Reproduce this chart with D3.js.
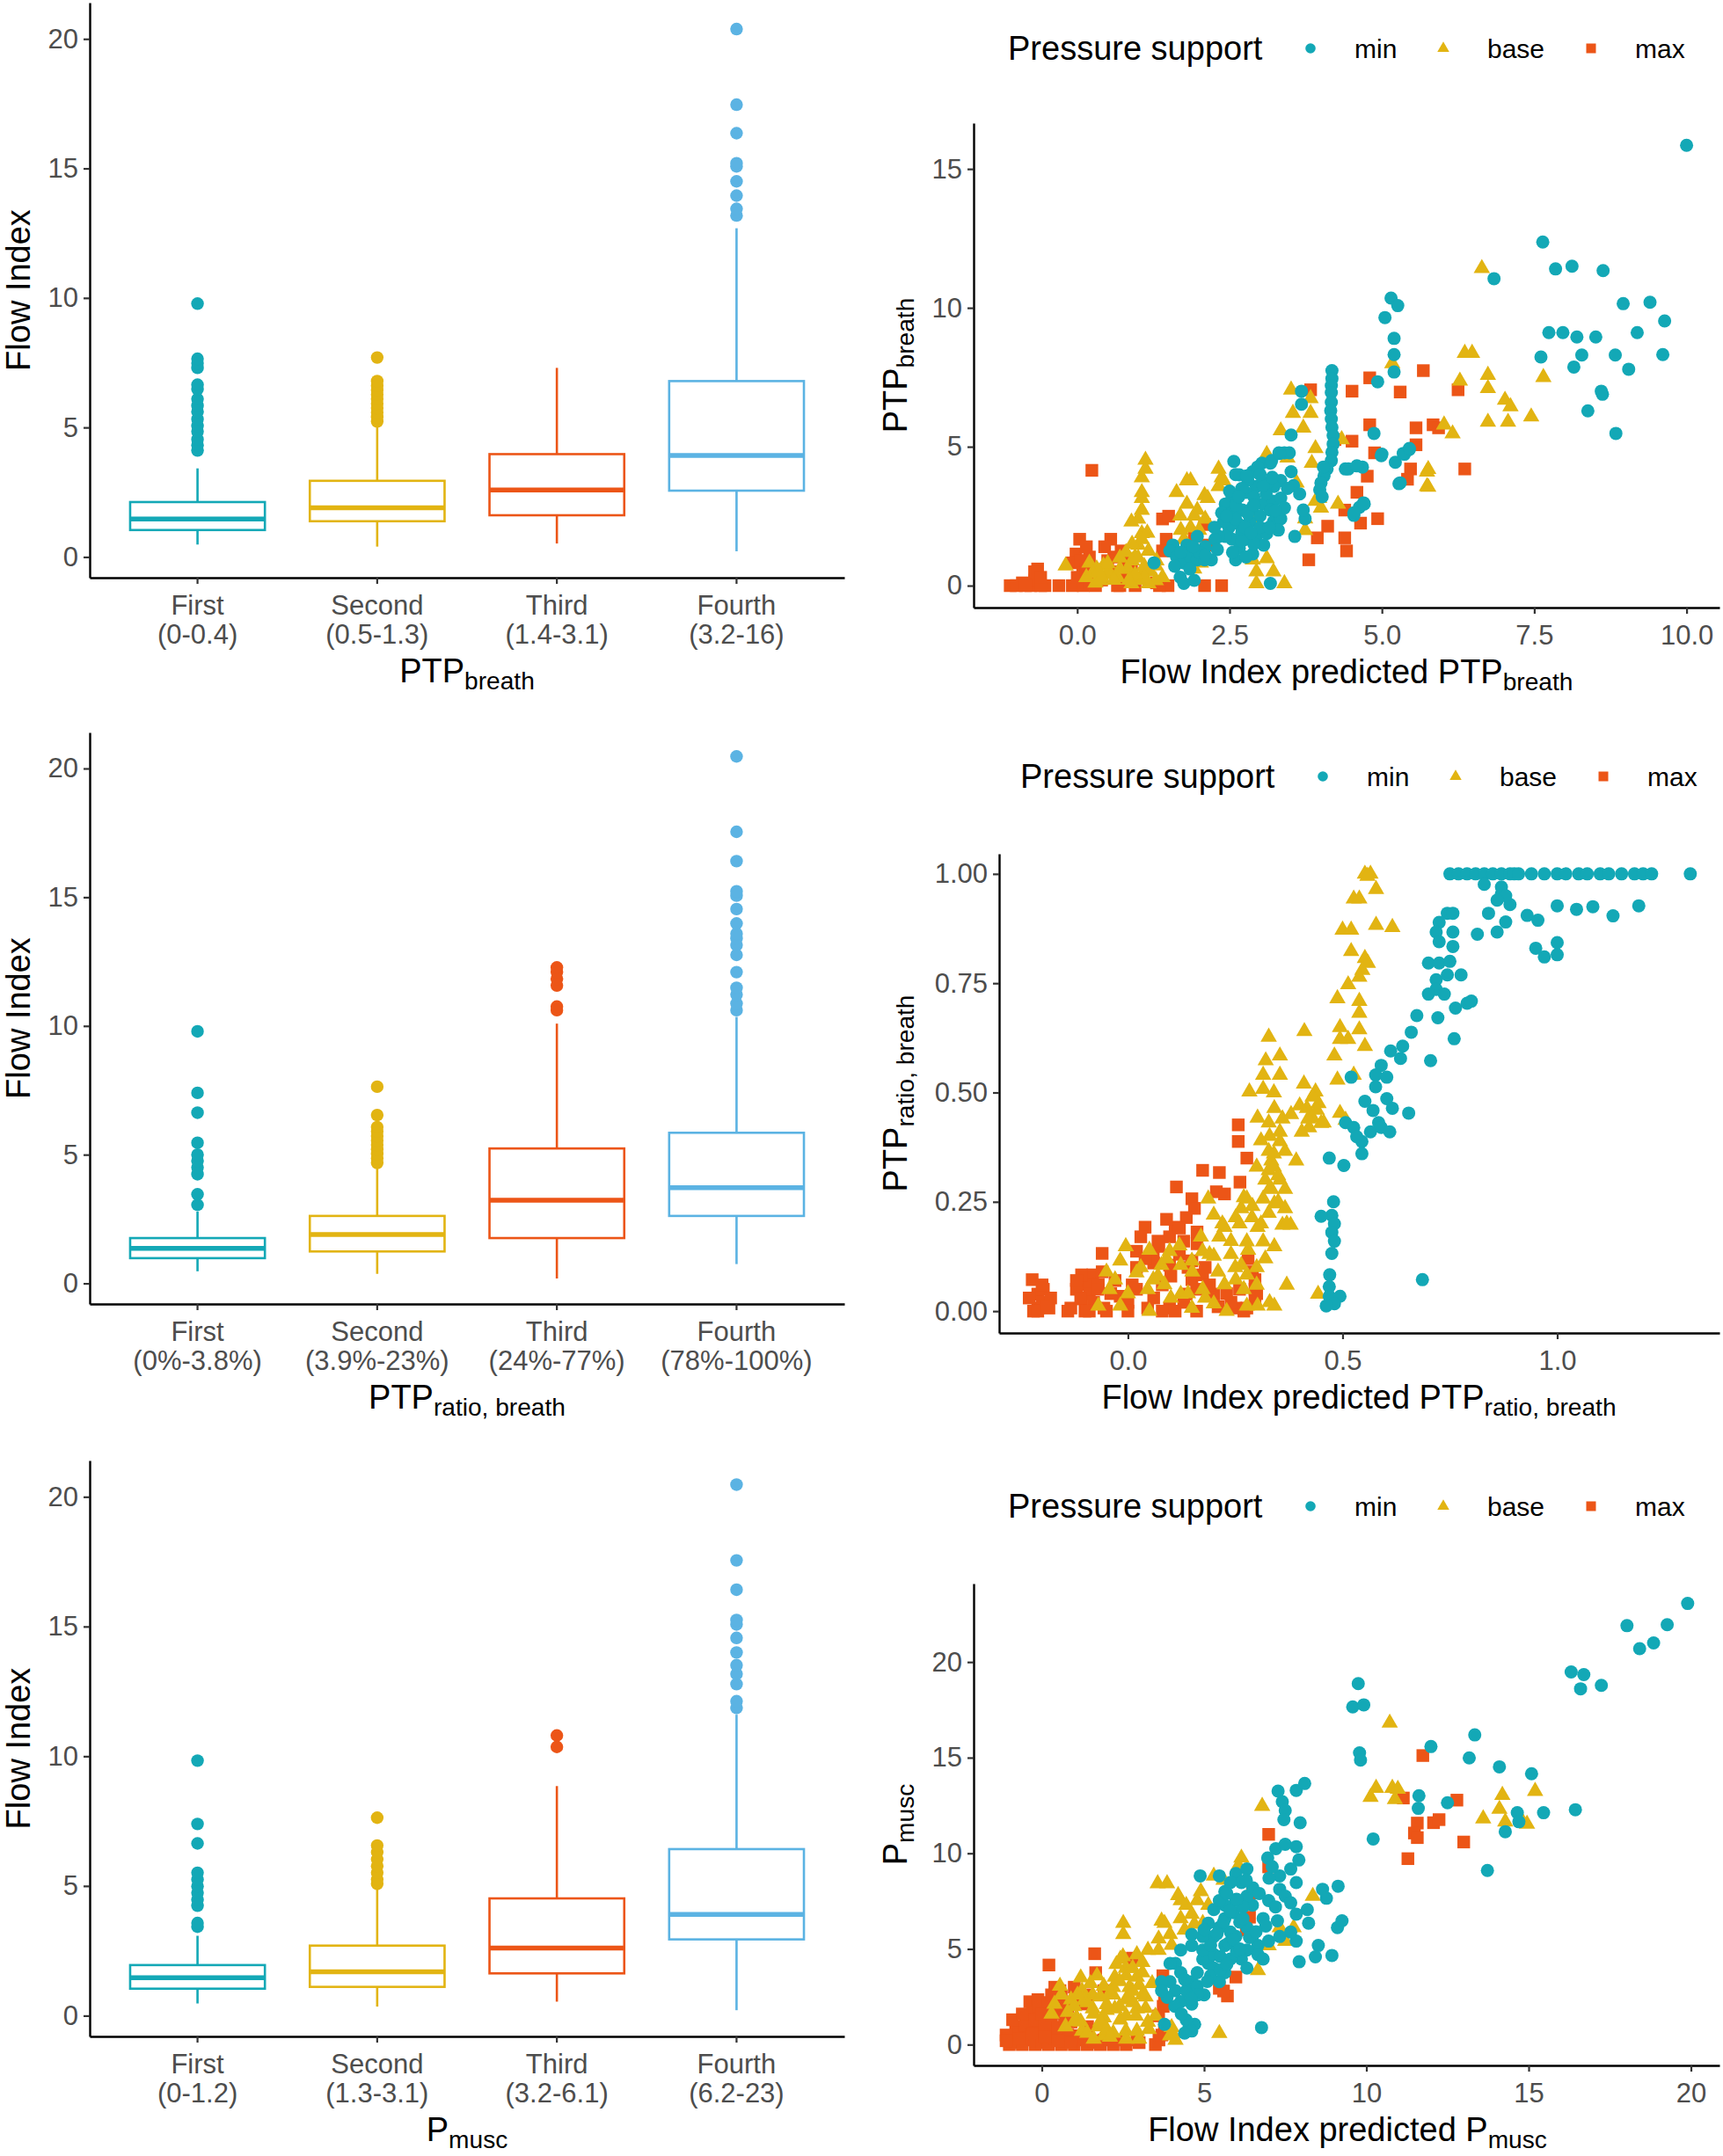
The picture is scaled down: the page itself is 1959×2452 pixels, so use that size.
<!DOCTYPE html>
<html>
<head>
<meta charset="utf-8">
<script src="https://d3js.org/d3.v7.min.js"></script>
<style>
  body { margin: 0; background: #fff; }
  text { font-family: "Liberation Sans", Arial, sans-serif; }
</style>
</head>
<body>
<svg id="fig" width="1959" height="2452"></svg>
<script>
// ---- data: box plots (Flow Index by quartile) ----
const boxCategories = ["First", "Second", "Third", "Fourth"];
const rangesBreath = ["(0-0.4)", "(0.5-1.3)", "(1.4-3.1)", "(3.2-16)"];
const rangesRatio = ["(0%-3.8%)", "(3.9%-23%)", "(24%-77%)", "(78%-100%)"];
const rangesMusc = ["(0-1.2)", "(1.3-3.1)", "(3.2-6.1)", "(6.2-23)"];

// [lower whisker, Q1, median, Q3, upper whisker]
const boxBreath = [[0.48, 1.04, 1.47, 2.12, 3.42], [0.4, 1.38, 1.9, 2.94, 5.05], [0.52, 1.61, 2.59, 3.97, 7.3], [0.22, 2.56, 3.92, 6.79, 12.69]];
const outBreath = [
  [4.11, 4.32, 4.54, 4.84, 5.06, 5.32, 5.61, 5.84, 6.1, 6.48, 6.65, 7.3, 7.48, 7.65, 9.78],
  [5.23, 5.4, 5.58, 5.75, 5.92, 6.1, 6.27, 6.44, 6.61, 6.79, 7.7],
  [],
  [13.18, 13.44, 13.95, 14.5, 15.08, 15.2, 16.36, 17.46, 20.38]
];
const boxRatio = [[0.47, 0.98, 1.36, 1.76, 2.79], [0.37, 1.24, 1.9, 2.62, 4.59], [0.19, 1.76, 3.23, 5.24, 10.09], [0.75, 2.62, 3.72, 5.85, 10.35]];
const outRatio = [
  [3.05, 3.46, 4.24, 4.5, 4.76, 5.0, 5.46, 6.63, 7.4, 9.79],
  [4.68, 4.85, 5.03, 5.2, 5.38, 5.55, 5.72, 5.9, 6.07, 6.54, 7.64],
  [10.61, 10.75, 11.57, 11.83, 12.09, 12.27],
  [10.61, 10.87, 11.22, 11.48, 12.09, 12.76, 13.14, 13.4, 13.58, 13.98, 14.54, 15.06, 15.23, 16.4, 17.54, 20.47]
];
const boxMusc = [[0.47, 1.04, 1.46, 1.95, 3.08], [0.35, 1.11, 1.69, 2.7, 4.9], [0.54, 1.63, 2.61, 4.52, 8.85], [0.21, 2.94, 3.9, 6.42, 11.6]];
const outMusc = [
  [3.43, 3.57, 4.24, 4.47, 4.73, 4.99, 5.25, 5.51, 6.64, 7.39, 9.83],
  [5.08, 5.25, 5.51, 5.77, 6.03, 6.3, 6.56, 7.63],
  [10.36, 10.8],
  [11.86, 12.12, 12.78, 13.17, 13.51, 14.0, 14.56, 15.08, 15.25, 16.42, 17.55, 20.47]
];

// ---- data: scatter (predicted vs measured), [x, y] ----
const supportLevels = ["min", "base", "max"];

const minBreath = [[10.0,15.85],[7.64,12.37],[7.85,11.4],[8.12,11.5],[8.63,11.34],[6.84,11.05],[5.05,9.65],[5.15,10.35],[5.26,10.08],[8.96,10.15],[9.4,10.2],[9.64,9.53],[7.74,9.11],[7.97,9.11],[8.2,8.95],[8.51,8.95],[9.19,9.11],[7.61,8.23],[8.28,8.3],[8.15,7.87],[8.83,8.3],[9.05,7.79],[9.61,8.32],[8.6,7.0],[8.62,6.89],[8.38,6.29],[8.84,5.48],[5.2,8.9],[5.2,8.32],[5.2,7.69],[4.93,7.34],[3.68,7.0],[3.68,6.53],[3.51,5.42],
  [4.18,7.74],[4.18,7.45],[4.17,7.2],[4.17,6.95],[4.17,6.6],[4.16,6.3],[4.17,6.0],[4.18,5.7],[4.2,5.4],[4.2,5.1],[4.18,4.8],[4.17,4.5],[4.1,4.2],[4.05,3.95],[4.0,3.7],[3.98,3.45],[4.02,3.2],
  [4.87,5.48],[4.99,4.68],[5.22,4.44],[5.45,4.9],[5.35,4.76],[5.3,3.7],[4.68,4.27],[4.4,4.2],[4.04,4.27],[4.7,2.98],[4.63,2.82],[4.54,2.53],[5.0,4.73],[5.37,4.73],[5.45,4.94],[5.28,3.67],[4.45,4.2],[4.59,4.31],[4.71,2.94],[4.54,2.62],[3.74,2.41],[3.57,1.77],[3.71,2.72],[3.17,0.08],
  [2.57,4.47],[2.66,3.99],[2.88,4.1],[3.03,4.41],[3.17,4.41],[3.31,4.78],[3.4,4.78],[3.48,4.78],[3.51,4.1],[3.34,3.78],[3.23,3.57],[3.11,3.67],[2.94,3.57],[2.77,3.36],[2.54,3.15],[2.43,2.94],[2.37,2.62],[2.54,2.62],[2.71,2.72],[2.88,2.83],[3.05,2.94],[3.22,3.04],[3.34,3.15],[3.17,2.72],[3.0,2.51],[2.83,2.3],[2.66,2.2],[2.49,2.09],[2.54,1.67],[2.66,1.35],[2.6,0.93],[2.77,1.67],[2.94,1.77],[3.11,1.88],[3.22,2.3],[3.34,2.41],[3.06,1.46],[2.88,1.14],[2.77,1.03],[2.43,1.77],[2.32,1.77],[2.26,1.67],[2.2,0.93],[1.97,1.77],[1.8,1.46],[1.57,1.46],[1.52,1.25],[1.63,1.03],[1.75,0.82],[1.86,1.03],[1.97,0.93],[2.09,0.93],[1.69,0.3],[1.75,0.08],[1.92,0.19],[1.26,0.82],[2.6,4.0],[2.8,3.8],[2.7,3.5],[2.9,3.2],[3.1,3.3],[2.5,3.4],[2.6,2.9],[2.8,2.6],[3.0,2.1],[2.7,1.9],[2.9,1.5],[2.4,2.3],[3.3,2.0],[3.4,2.8],[2.1,1.4],[2.0,1.2],[3.55,3.6],[3.65,3.3],[2.78,3.95],[2.96,4.27],[3.19,4.5],[3.32,4.76],
  [2.6,2.4],[2.75,2.1],[2.9,2.9],[3.05,3.6],[3.2,3.9],[3.0,4.0],[2.85,1.9],[2.7,1.6],[2.55,1.2],[2.45,2.5],[3.15,2.1],[3.25,2.7],[2.65,3.2],[2.3,1.3],[2.1,1.1],[1.9,1.4],[1.7,1.2],[1.85,0.6],[1.6,0.7],[2.25,2.1],[3.45,3.5]];
const baseBreath = [[-0.19,0.72],[0.2,0.82],[0.32,0.61],[0.43,0.72],[0.55,0.4],[0.15,0.3],[0.38,0.19],[0.66,0.3],[0.83,0.61],[0.95,1.03],[1.0,1.46],[1.06,1.88],[0.89,2.3],[1.06,2.72],[1.06,3.15],[1.06,3.36],[1.06,3.89],[1.12,4.2],[1.12,4.52],[1.06,1.67],[1.17,1.25],[1.29,0.72],[1.4,0.3],[1.17,0.08],[0.89,0.08],[1.06,0.4],[1.29,0.19],[0.5,0.5],[0.7,0.6],[0.9,0.9],[1.1,0.7],[1.0,0.2],[0.3,0.1],[0.25,0.45],
  [0.4,0.3],[0.6,0.2],[0.7,1.0],[0.8,1.2],[0.9,1.5],[1.0,1.0],[1.2,0.5],[1.3,0.9],[1.1,0.3],[0.5,0.8],[0.35,0.5],[1.15,1.9],[1.0,2.4],[0.95,0.4],[0.85,0.2],
  [1.63,3.36],[1.8,3.78],[1.86,3.78],[1.69,2.51],[1.8,2.94],[1.92,2.51],[2.09,3.25],[2.14,3.15],[1.97,2.72],[1.86,2.09],[1.75,1.67],[1.8,1.14],[1.92,0.61],[2.03,0.82],[2.32,4.2],[2.37,3.89],[2.32,3.57],[2.4,3.78],[2.0,2.0],[2.1,2.4],[1.7,2.0],
  [2.88,0.93],[2.94,0.5],[2.94,0.08],[3.11,0.98],[3.22,0.5],[3.4,0.08],[3.11,4.73],[3.34,5.58],[3.51,7.05],[3.54,6.21],[3.71,5.68],[3.83,6.74],[3.83,6.21],[3.91,4.94],[3.85,4.41],[3.74,2.41],[3.91,3.04],[3.97,3.15],[4.28,2.94],[3.74,1.99],[4.34,5.26],[5.17,8.0],[5.74,4.1],[5.74,3.57],[6.02,5.79],[6.16,5.47],[6.36,8.37],[6.48,8.37],[6.28,7.37],[6.74,7.58],[6.74,7.1],[7.02,6.68],[6.74,5.89],[7.07,5.89],[6.64,11.42],[7.65,7.5],[7.11,6.45],[7.45,6.08],[5.76,4.19],[5.76,3.55],[3.6,3.7],[3.45,4.6],[4.0,2.8],[2.9,2.4]];
const maxBreath = [[-1.1,0],[-0.76,0],[-0.65,0.6],[-0.7,0.2],[-0.53,0],[-0.3,0],[-0.08,0],[0.04,1.67],[-0.02,1.14],[0.09,0.61],[-0.08,0.82],[0.24,4.15],[0.2,1.03],[0.26,0.5],[0.55,1.67],[0.6,1.03],[0.72,1.25],[0.78,0.4],[0.66,0],[0.95,0],[1.4,2.4],[1.46,1.67],[1.4,1.25],[1.49,0],[1.92,1.77],[2.09,2.2],[2.14,1.46],[2.03,0.93],[2.09,0],[2.37,0],[1.35,0],[0.89,0.72],[0.1,0],[0.4,0.2],[-0.9,0.1],[0.15,1.4],[0.5,0.9],
  [-1.0,0],[-0.85,0],[-0.6,0],[-0.7,0.5],[-0.6,0.3],[0.0,0.3],[0.05,0.9],[0.15,0.6],[0.3,0.0],[0.45,1.4],[0.6,0.5],[0.7,0.0],[0.8,0.9],[1.5,2.5],[1.3,0.1],[0.2,0.1],
  [3.83,7.05],[4.51,7.0],[4.8,7.48],[5.3,6.97],[5.68,7.74],[6.25,7.05],[4.8,5.79],[5.56,5.68],[5.84,5.79],[5.93,5.68],[4.51,5.2],[4.23,5.26],[5.56,5.07],[4.88,4.78],[5.47,4.2],[5.42,3.83],[6.36,4.2],[4.76,3.94],[4.59,3.36],[4.39,2.72],[4.65,2.25],[4.93,2.41],[4.11,2.14],[3.94,1.72],[4.39,1.72],[4.42,1.25],[3.8,0.93]];

const minRatio = [[0.75,1],[0.77,1],[0.79,1],[0.81,1],[0.83,1],[0.85,1],[0.87,1],[0.89,1],[0.9,1],[0.91,1],[0.94,1],[0.97,1],[1.0,1],[1.02,1],[1.05,1],[1.07,1],[1.1,1],[1.12,1],[1.15,1],[1.18,1],[1.2,1],[1.22,1],[1.31,1],
  [0.83,0.976],[0.87,0.954],[0.89,0.93],[0.84,0.91],[0.88,0.89],[0.93,0.905],[0.955,0.894],[1.0,0.927],[1.045,0.919],[1.083,0.925],[1.13,0.904],[1.19,0.927],[0.95,0.83],[0.97,0.81],[1.0,0.843],[1.0,0.815],[0.744,0.91],[0.757,0.91],[0.814,0.862],[0.86,0.867],[0.725,0.889],[0.718,0.867],[0.725,0.845],[0.757,0.867],[0.757,0.834],[0.7,0.796],[0.725,0.796],[0.75,0.8],[0.718,0.758],[0.718,0.736],[0.776,0.769],[0.744,0.769],[0.673,0.676],[0.722,0.671],[0.76,0.623],[0.737,0.725],[0.763,0.693],[0.79,0.704],[0.8,0.709],[0.7,0.725],[0.87,0.97],[0.88,0.95],[0.86,0.94],
  [0.66,0.638],[0.64,0.606],[0.635,0.578],[0.612,0.595],[0.59,0.562],[0.577,0.54],[0.603,0.535],[0.577,0.513],[0.603,0.486],[0.616,0.464],[0.654,0.453],[0.52,0.535],[0.552,0.48],[0.571,0.459],[0.584,0.431],[0.565,0.41],[0.59,0.42],[0.545,0.388],[0.545,0.36],[0.507,0.431],[0.526,0.42],[0.533,0.399],[0.469,0.35],[0.503,0.333],[0.705,0.573],[0.61,0.41],
  [0.479,0.25],[0.475,0.219],[0.481,0.2],[0.475,0.18],[0.481,0.16],[0.475,0.132],[0.45,0.217],[0.47,0.083],[0.469,0.056],[0.469,0.034],[0.494,0.034],[0.481,0.017],[0.462,0.012],[0.686,0.072]];
const baseRatio = [[0.552,1.0],[0.565,1.0],[0.558,0.995],[0.578,0.965],[0.526,0.943],[0.539,0.943],[0.5,0.872],[0.52,0.872],[0.578,0.883],[0.616,0.878],[0.52,0.823],[0.552,0.807],[0.559,0.796],[0.546,0.78],[0.539,0.764],[0.513,0.747],[0.488,0.715],[0.539,0.709],[0.494,0.649],[0.539,0.682],[0.539,0.644],[0.513,0.622],[0.494,0.622],[0.552,0.606],[0.481,0.584],[0.488,0.529],[0.526,0.54],[0.494,0.453],[0.507,0.437],
  [0.411,0.64],[0.328,0.627],[0.321,0.573],[0.354,0.584],[0.315,0.54],[0.354,0.54],[0.283,0.502],[0.315,0.508],[0.437,0.502],[0.444,0.475],[0.417,0.464],[0.43,0.442],[0.422,0.42],[0.405,0.41],[0.456,0.431],[0.302,0.442],[0.328,0.431],[0.354,0.41],[0.341,0.464],[0.354,0.388],[0.328,0.366],[0.366,0.366],[0.334,0.344],[0.392,0.344],[0.328,0.322],[0.354,0.3],[0.334,0.279],[0.366,0.279],[0.315,0.257],[0.341,0.246],[0.366,0.235],[0.328,0.224],[0.264,0.235],[0.277,0.257],[0.251,0.214],[0.289,0.214],[0.302,0.192],[0.36,0.197],[0.379,0.197],
  [0.187,0.257],[0.225,0.192],[0.213,0.17],[0.277,0.159],[0.315,0.159],[0.341,0.148],[0.174,0.137],[0.2,0.126],[0.149,0.115],[0.123,0.105],[0.097,0.137],[0.078,0.105],[0.059,0.072],[0.085,0.061],[0.123,0.039],[0.174,0.05],[0.2,0.017],[0.225,0.061],[0.251,0.072],[0.277,0.012],[0.302,0.012],[0.341,0.012],[0.264,0.105],[0.277,0.083],[-0.03,0.072],[-0.018,0.115],[-0.005,0.148],[-0.043,0.05],[-0.069,0.012],[-0.018,0.012],[0.02,0.088],[0.046,0.05],[0.443,0.039],[0.149,0.007],[0.24,0.13],[0.3,0.1],[0.32,0.3],[0.34,0.33],
  [0.0,0.04],[0.03,0.1],[0.07,0.08],[0.1,0.03],[0.12,0.15],[0.15,0.09],[0.18,0.03],[0.19,0.13],[0.21,0.09],[0.22,0.2],[0.24,0.16],[0.26,0.2],[0.28,0.14],[0.29,0.24],[0.31,0.2],[0.32,0.12],[0.33,0.28],[0.35,0.31],[0.34,0.36],[0.31,0.39],[0.36,0.44],[0.38,0.45],[0.4,0.47],[0.42,0.44],[0.44,0.46],[0.37,0.06],[0.33,0.02],[0.23,0.0],[0.27,0.05],[0.3,0.06],[-0.05,0.09],[0.05,0.0],
  [0.05,0.14],[0.09,0.12],[0.14,0.04],[0.17,0.17],[0.2,0.22],[0.25,0.1],[0.27,0.26],[0.3,0.33],[0.33,0.4],[0.35,0.25],[0.37,0.2],[0.34,0.5],[0.41,0.52],[0.43,0.49],[0.45,0.43]];
const maxRatio = [[0.257,0.426],[0.257,0.388],[0.277,0.35],[0.174,0.322],[0.213,0.317],[0.261,0.295],[0.206,0.273],[0.225,0.268],[0.113,0.284],[0.149,0.257],[0.155,0.235],[0.136,0.214],[0.11,0.192],[0.04,0.192],[0.097,0.17],[0.161,0.181],[0.161,0.154],[0.072,0.148],[0.059,0.126],[-0.06,0.132],[0.02,0.137],[-0.082,0.083],[-0.095,0.061],[-0.108,0.028],[-0.133,0.007],[-0.069,0.061],[-0.056,0.007],[-0.223,0.072],[-0.21,0.039],[-0.197,0.05],[-0.184,0.007],[-0.21,0.007],[0.02,0.05],[0.046,0.007],[0.097,0.007],[0.136,0.039],[0.149,0.072],[0.174,0.083],[0.2,0.039],[0.251,0.007],[0.296,0.072],[0.296,0.05],[0.296,0.028],[0.277,0.007],[0.097,0.105],[-0.108,0.083],[-0.12,0.05],[-0.018,0.034],[0.149,0.115],[-0.2,0.02],[-0.09,0.04],[0.0,0.02],
  [-0.22,0.0],[-0.2,0.06],[-0.18,0.03],[-0.1,0.0],[-0.08,0.02],[-0.12,0.07],[-0.06,0.09],[-0.04,0.04],[0.0,0.0],[0.02,0.1],[0.06,0.03],[0.08,0.06],[0.11,0.0],[0.13,0.02],[0.16,0.05],[0.18,0.1],[0.12,0.13],[0.06,0.11],[0.24,0.02],[0.26,0.05],[0.29,0.09],[0.03,0.17],[0.09,0.21],[0.13,0.16],
  [-0.23,0.03],[-0.21,0.0],[-0.19,0.01],[-0.14,0.0],[-0.11,0.03],[-0.09,0.0],[-0.07,0.05],[-0.05,0.0],[-0.03,0.07],[0.01,0.06],[0.04,0.12],[0.08,0.0],[0.1,0.08],[0.14,0.1],[0.16,0.0],[0.19,0.06],[0.21,0.01],[0.23,0.04],[0.27,0.0],[0.28,0.12],[0.3,0.04],[0.07,0.16],[0.12,0.19]];

const minMusc = [[19.9,23.06],[18.03,21.9],[18.42,20.7],[18.85,21.0],[19.27,21.95],[16.31,19.48],[16.7,19.34],[16.6,18.6],[17.24,18.78],[9.75,18.87],[9.58,17.65],[9.92,17.76],[9.79,15.25],[9.82,14.87],[11.99,15.58],[13.34,16.19],[13.17,14.99],[14.1,14.52],[15.09,14.16],[11.62,13.01],[11.6,12.35],[12.5,12.64],[14.28,11.13],[14.65,12.12],[14.7,11.65],[15.46,12.12],[16.44,12.28],[10.21,10.75],[13.73,9.1],
  [7.28,13.25],[7.41,12.7],[7.5,12.24],[7.46,11.76],[7.84,13.29],[8.1,13.65],[7.96,11.6],[7.21,10.24],[6.96,9.76],[7.5,10.47],[7.84,10.35],[7.92,9.65],[7.67,9.18],[7.33,8.82],[7.84,8.47],[7.33,8.12],[7.5,7.76],[7.67,7.41],[6.99,7.53],[6.49,7.29],[7.84,6.82],[8.18,7.06],[8.65,8.12],[8.77,7.65],[9.13,8.28],[8.22,6.35],[9.11,6.12],[9.25,6.47],[8.52,5.18],[8.43,4.59],[8.94,4.66],[7.93,4.33],[7.84,5.41],[7.67,5.88],[6.77,0.89],[6.82,6.59],[7.26,6.47],
  [4.88,8.82],[5.47,8.82],[5.98,8.94],[6.32,9.18],[6.15,8.47],[6.32,7.76],[5.98,7.53],[5.64,7.29],[5.3,7.06],[5.64,6.59],[5.47,6.12],[5.3,5.65],[4.96,5.65],[4.62,5.76],[4.62,5.18],[4.28,4.94],[4.12,4.24],[4.28,3.76],[3.95,3.29],[4.12,2.82],[3.86,2.47],[4.45,2.82],[4.62,3.29],[4.79,3.76],[5.13,4.24],[5.3,4.71],[5.64,5.18],[5.98,5.65],[6.32,6.12],[6.49,5.65],[6.66,5.18],[6.32,4.94],[6.15,4.47],[5.81,4.47],[5.64,3.76],[5.47,3.29],[5.3,4.0],[4.96,4.47],[4.79,3.06],[4.62,2.12],[4.28,2.24],[4.54,0.94],[4.71,1.06],[4.45,1.29],[4.62,0.71],[3.78,1.06],[3.69,3.29],[3.69,2.82],[6.66,4.71],[6.82,4.47],[6.99,5.41],[7.33,5.65],[6.32,4.0],[5.81,5.88],[5.47,7.53],[5.64,8.0],[5.81,8.47],[5.13,6.35],[4.96,4.94],[3.95,4.24],[5.9,6.9],[6.1,6.4],[5.75,5.3],[6.0,4.9],[5.5,4.6],[5.2,3.6],[6.2,7.2],[6.5,8.2],[4.4,3.4],[5.0,2.6],
  [5.0,6.0],[5.2,5.2],[5.4,5.8],[5.6,6.4],[5.8,7.0],[6.0,7.6],[6.2,6.6],[5.9,5.5],[6.1,5.0],[6.4,5.6],[5.5,3.9],[5.7,4.2],[5.1,3.3],[4.8,2.6],[4.6,2.4],[4.1,2.0],[4.3,1.6],[4.4,0.6],[6.7,7.9],[7.0,8.7],[7.2,7.2],[6.9,6.2],[7.1,9.3],[6.6,5.9],[6.3,8.6],[5.7,7.9]];
const baseMusc = [[10.72,16.82],[6.79,12.47],[10.13,12.94],[10.3,13.41],[10.8,13.41],[10.97,13.36],[10.88,12.82],[13.6,11.81],[14.19,13.04],[14.1,12.31],[14.28,11.65],[14.95,11.53],[15.2,13.25],[14.78,11.76],[6.15,9.76],[6.06,9.36],[3.86,8.42],[3.57,8.42],[5.3,8.82],[5.13,7.29],[4.79,7.53],[4.45,7.29],[4.28,6.59],[3.69,6.47],[3.6,5.53],[3.95,5.76],[3.78,6.35],[4.28,7.53],[4.62,6.82],[4.96,6.35],[2.51,6.35],[2.51,5.76],[3.27,4.94],[3.6,4.94],[2.93,4.71],[2.42,4.47],[2.59,4.0],[2.25,3.53],[2.93,3.53],[3.1,3.76],[1.91,3.06],[1.57,2.59],[1.24,2.82],[0.9,2.35],[0.56,3.06],[0.39,2.12],[1.07,1.41],[1.57,1.88],[1.91,1.41],[2.25,1.88],[2.59,2.35],[2.93,1.88],[3.1,2.59],[3.27,1.18],[2.59,0.71],[1.91,0.47],[1.24,0.71],[1.74,0.94],[2.42,1.29],[0.73,0.94],[2.93,0.71],[3.95,0.47],[4.12,0.24],[4.03,0.59],[5.47,0.59],[6.66,3.88],[6.99,5.18],[7.33,6.12],[7.76,6.12],[8.35,7.76],[7.5,5.41],[2.7,3.0],[2.2,2.6],[1.4,2.2],[0.8,1.7],[2.0,2.1],[2.8,2.8],[1.2,1.2],[3.0,0.3],[1.6,0.3],[2.2,0.6],[3.4,3.2],
  [1.0,2.0],[1.3,2.3],[1.6,1.6],[1.8,2.5],[2.0,1.8],[2.2,3.0],[2.4,2.0],[2.6,1.5],[2.8,2.2],[3.0,3.1],[3.2,2.5],[2.6,3.6],[2.3,4.2],[2.8,4.0],[3.1,4.3],[1.5,3.2],[1.2,3.5],[0.6,2.6],[1.0,1.2],[1.4,0.6],[2.0,0.8],[2.6,0.3],[3.3,0.8],[3.5,1.5],[0.3,1.6],[4.0,0.9],[4.2,7.8],[5.6,8.6],[4.9,8.0],[4.4,6.0],[5.1,5.7],[4.0,5.2],[4.7,6.3],
  [1.8,1.2],[2.1,2.7],[2.4,3.3],[2.7,2.5],[2.9,1.5],[3.2,1.9],[1.1,2.6],[1.7,3.6],[2.5,4.6],[2.1,0.4]];
const maxMusc = [[11.74,15.11],[11.14,12.89],[12.79,12.78],[11.57,11.58],[12.07,11.6],[12.24,11.76],[11.48,11.06],[11.57,10.82],[13.0,10.59],[11.28,9.72],[6.99,10.99],[6.99,9.29],[6.49,7.93],[6.4,6.66],[5.47,2.94],[5.72,2.54],[5.98,3.53],[3.73,3.6],[3.74,2.0],[3.78,0.94],[0.22,4.16],[1.63,4.75],[2.79,4.52],[1.66,3.76],[-0.37,2.24],[-0.29,1.65],[-0.8,0.94],[-1.05,0.24],[-0.63,0.47],[-0.12,0.71],[0.22,1.18],[0.56,1.65],[0.05,1.88],[0.39,2.59],[0.73,2.12],[0.9,1.18],[1.07,0.47],[1.41,0.94],[1.91,0.24],[2.42,0.24],[2.93,0.24],[-0.29,0.24],[0.22,0.24],[0.73,0.24],[1.24,0.24],[-0.46,1.18],[-0.12,2.35],[0.56,2.82],[1.24,2.12],[1.91,2.82],[3.61,0.24],[3.78,2.35],[-0.9,0.4],[0.0,0.5],[0.4,0.7],[-0.5,0.6],
  [-1.0,0],[-0.8,0.1],[-0.6,0],[-0.4,0.3],[-0.2,0],[0,0.1],[0.2,0],[0.4,0.3],[0.6,0],[0.8,0.5],[1.0,0],[1.2,0.4],[1.4,0],[1.6,0.2],[1.8,0],[2.0,0.3],[2.2,0],[-0.8,0.7],[-0.5,1.0],[-0.2,1.3],[0.1,1.0],[0.3,1.5],[0.5,0.9],[0.7,1.4],[-0.1,2.0],[0.2,2.2],[0.6,2.5],[0.4,3.0],[1.0,3.0],[1.4,2.6],[3.5,0],[3.7,0.5],[3.6,1.5],[5.6,2.8],[6.3,6.0],[3.0,0.1],[2.6,0],[-1.1,0.5],[-0.9,1.3],
  [-1.1,0.2],[-0.7,0.3],[-0.3,0.6],[0.1,0.4],[0.5,0.2],[0.9,0.1],[1.3,0.3],[1.7,0.1],[-0.6,1.6],[0.0,1.6],[0.3,2.6],[0.8,2.0]];

// ---- styling ----
const teal = "#13A8B6", gold = "#E2B412", red = "#EC5517", lightBlue = "#5BB3E3";
const boxColors = [teal, gold, red, lightBlue];
const tickGrey = "#4D4D4D";
const titleSize = 38, tickSize = 31;

const svg = d3.select("#fig");
svg.append("rect").attr("width", 1959).attr("height", 2452).attr("fill", "#fff");

function subLabel(t, main, sub, size) {
  t.append("tspan").text(main);
  t.append("tspan").attr("font-size", size * 0.74).attr("dy", size * 0.22).text(sub);
}

function styleAxis(g) {
  g.select(".domain").attr("stroke", "#000").attr("stroke-width", 2.4);
  g.selectAll(".tick line").attr("stroke", "#333").attr("stroke-width", 2.2);
  g.selectAll(".tick text").attr("fill", tickGrey).attr("font-size", tickSize)
    .attr("font-family", "Liberation Sans, Arial, sans-serif");
}

// ---- box plot panel ----
function boxPanel(p) {
  const x = d3.scaleBand().domain(boxCategories).range([p.left, p.right])
    .paddingInner(0.25).paddingOuter(0.225);
  const y = d3.scaleLinear().domain([-0.8, 21.4]).range([p.bottom, p.top]);
  const g = svg.append("g");

  g.append("g").attr("transform", `translate(${p.left},0)`)
    .call(d3.axisLeft(y).tickValues([0, 5, 10, 15, 20]).tickSize(7).tickPadding(6).tickSizeOuter(0))
    .call(styleAxis);
  g.append("g").attr("transform", `translate(0,${p.bottom})`)
    .call(d3.axisBottom(x).tickSize(7).tickFormat(() => "").tickSizeOuter(0))
    .call(styleAxis);

  boxCategories.forEach((c, i) => {
    const lab = g.append("text").attr("text-anchor", "middle").attr("fill", tickGrey)
      .attr("font-size", tickSize);
    lab.append("tspan").attr("x", x(c) + x.bandwidth() / 2).attr("y", p.bottom + 42).text(c);
    lab.append("tspan").attr("x", x(c) + x.bandwidth() / 2).attr("y", p.bottom + 75).text(p.ranges[i]);
  });

  const boxes = g.selectAll(".box").data(p.stats).join("g");
  boxes.each(function (s, i) {
    const b = d3.select(this);
    const cx = x(boxCategories[i]) + x.bandwidth() / 2;
    const col = boxColors[i];
    b.append("line").attr("x1", cx).attr("x2", cx).attr("y1", y(s[0])).attr("y2", y(s[1]))
      .attr("stroke", col).attr("stroke-width", 2.6);
    b.append("line").attr("x1", cx).attr("x2", cx).attr("y1", y(s[3])).attr("y2", y(s[4]))
      .attr("stroke", col).attr("stroke-width", 2.6);
    b.append("rect").attr("x", x(boxCategories[i])).attr("width", x.bandwidth())
      .attr("y", y(s[3])).attr("height", y(s[1]) - y(s[3]))
      .attr("fill", "#fff").attr("stroke", col).attr("stroke-width", 2.6);
    b.append("line").attr("x1", x(boxCategories[i])).attr("x2", x(boxCategories[i]) + x.bandwidth())
      .attr("y1", y(s[2])).attr("y2", y(s[2])).attr("stroke", col).attr("stroke-width", 5.5);
    b.selectAll("circle").data(p.outliers[i]).join("circle")
      .attr("cx", cx).attr("cy", d => y(d)).attr("r", 7.2).attr("fill", col);
  });

  g.append("text").attr("text-anchor", "middle").attr("font-size", titleSize)
    .attr("transform", `translate(34,${(p.top + p.bottom) / 2}) rotate(-90)`).text("Flow Index");
  const xt = g.append("text").attr("text-anchor", "middle").attr("font-size", titleSize)
    .attr("x", (p.left + p.right) / 2).attr("y", p.bottom + 119);
  subLabel(xt, p.xMain, p.xSub, titleSize);
}

// ---- scatter panel ----
function scatterPanel(p) {
  const x = d3.scaleLinear().domain(p.xDomain).range([p.left, p.right]);
  const y = d3.scaleLinear().domain(p.yDomain).range([p.bottom, p.top]);
  const g = svg.append("g");

  g.append("g").attr("transform", `translate(${p.left},0)`)
    .call(d3.axisLeft(y).tickValues(p.yTicks).tickFormat(d3.format(p.yFmt)).tickSize(7).tickPadding(6).tickSizeOuter(0))
    .call(styleAxis);
  g.append("g").attr("transform", `translate(0,${p.bottom})`)
    .call(d3.axisBottom(x).tickValues(p.xTicks).tickFormat(d3.format(p.xFmt)).tickSize(7).tickPadding(13).tickSizeOuter(0))
    .call(styleAxis);

  const tri = d3.symbol().type(d3.symbolTriangle).size(150);
  // draw order: max, base, min
  g.selectAll(".sq").data(p.series[2]).join("rect")
    .attr("x", d => x(d[0]) - 7.2).attr("y", d => y(d[1]) - 7.2)
    .attr("width", 14.4).attr("height", 14.4).attr("fill", red);
  g.selectAll(".tri").data(p.series[1]).join("path")
    .attr("d", tri).attr("transform", d => `translate(${x(d[0])},${y(d[1])})`).attr("fill", gold);
  g.selectAll(".dot").data(p.series[0]).join("circle")
    .attr("cx", d => x(d[0])).attr("cy", d => y(d[1])).attr("r", 7.5).attr("fill", teal);

  const yt = g.append("text").attr("text-anchor", "middle").attr("font-size", titleSize)
    .attr("transform", `translate(1031,${(p.top + p.bottom) / 2}) rotate(-90)`);
  subLabel(yt, p.yMain, p.ySub, titleSize);
  const xt = g.append("text").attr("text-anchor", "middle").attr("font-size", titleSize)
    .attr("x", p.xTitleX).attr("y", p.bottom + 86);
  subLabel(xt, "Flow Index predicted " + p.yMain, p.ySub, titleSize);

  // legend
  const lg = svg.append("g").attr("transform", `translate(${p.legendX},${p.legendY})`);
  lg.append("text").attr("x", 0).attr("y", 13).attr("font-size", titleSize).text("Pressure support");
  const keyX = [344, 495, 663];
  supportLevels.forEach((lvl, i) => {
    if (i === 0) lg.append("circle").attr("cx", keyX[i]).attr("cy", 0).attr("r", 5.8).attr("fill", teal);
    if (i === 1) lg.append("path").attr("d", d3.symbol().type(d3.symbolTriangle).size(80)())
      .attr("transform", `translate(${keyX[i]},0)`).attr("fill", gold);
    if (i === 2) lg.append("rect").attr("x", keyX[i] - 5.5).attr("y", -5.5).attr("width", 11).attr("height", 11).attr("fill", red);
    lg.append("text").attr("x", keyX[i] + 50).attr("y", 11).attr("font-size", 30).text(lvl);
  });
}

// ---- layout ----
boxPanel({ left: 102, right: 960, top: 3, bottom: 657, stats: boxBreath, outliers: outBreath,
  ranges: rangesBreath, xMain: "PTP", xSub: "breath" });
boxPanel({ left: 102, right: 960, top: 833, bottom: 1483, stats: boxRatio, outliers: outRatio,
  ranges: rangesRatio, xMain: "PTP", xSub: "ratio, breath" });
boxPanel({ left: 102, right: 960, top: 1661, bottom: 2316, stats: boxMusc, outliers: outMusc,
  ranges: rangesMusc, xMain: "P", xSub: "musc" });

scatterPanel({ left: 1107, right: 1955, top: 140, bottom: 691,
  xDomain: [-1.7, 10.54], yDomain: [-0.79, 16.65],
  xTicks: [0, 2.5, 5, 7.5, 10], xFmt: ".1f", yTicks: [0, 5, 10, 15], yFmt: "d",
  series: [minBreath, baseBreath, maxBreath], yMain: "PTP", ySub: "breath",
  xTitleX: 1531, legendX: 1146, legendY: 55 });
scatterPanel({ left: 1136, right: 1955, top: 971, bottom: 1516,
  xDomain: [-0.30, 1.378], yDomain: [-0.05, 1.046],
  xTicks: [0, 0.5, 1.0], xFmt: ".1f", yTicks: [0, 0.25, 0.5, 0.75, 1.0], yFmt: ".2f",
  series: [minRatio, baseRatio, maxRatio], yMain: "PTP", ySub: "ratio, breath",
  xTitleX: 1545, legendX: 1160, legendY: 883 });
scatterPanel({ left: 1107, right: 1955, top: 1801, bottom: 2349,
  xDomain: [-2.1, 20.88], yDomain: [-1.09, 24.1],
  xTicks: [0, 5, 10, 15, 20], xFmt: "d", yTicks: [0, 5, 10, 15, 20], yFmt: "d",
  series: [minMusc, baseMusc, maxMusc], yMain: "P", ySub: "musc",
  xTitleX: 1532, legendX: 1146, legendY: 1713 });
</script>
</body>
</html>
